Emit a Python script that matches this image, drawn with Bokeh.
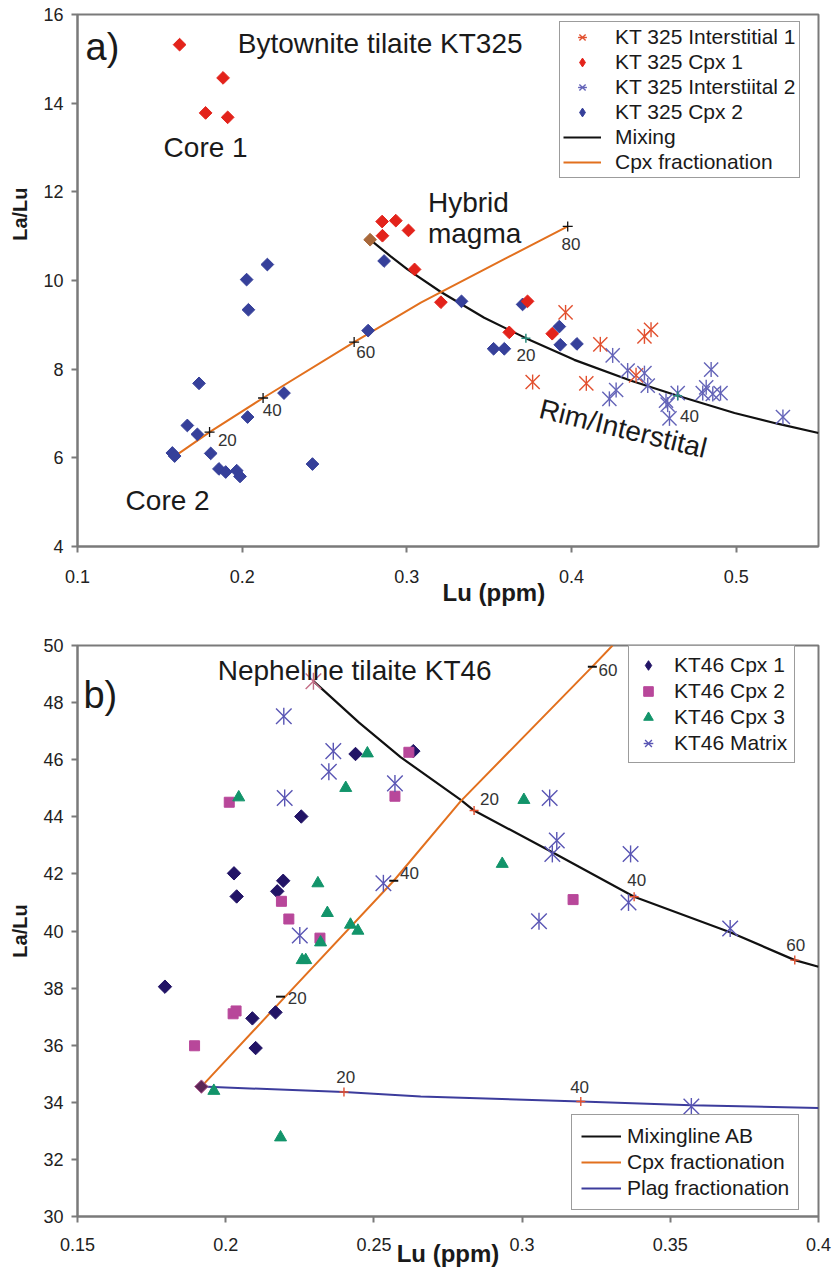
import math
from bokeh.plotting import figure
from bokeh.layouts import column
from bokeh.models import (Range1d, FixedTicker, Legend, LegendItem, Title,
                          CustomJSTickFormatter)
from bokeh.core.properties import value
from bokeh.embed import file_html
from bokeh.resources import INLINE

FONT = "Liberation Sans"

# ---------------- Panel a: Bytownite tilaite KT325 ----------------
a_int1_lu = [0.3964, 0.4175, 0.3764, 0.4090, 0.4483, 0.4443, 0.4392]
a_int1_lalu = [9.28, 8.56, 7.71, 7.68, 8.89, 8.74, 7.86]

a_cpx1_lu = [0.162, 0.1884, 0.1778, 0.1912, 0.285, 0.2933, 0.301, 0.2852,
             0.3047, 0.3207, 0.3733, 0.3622, 0.3883]
a_cpx1_lalu = [15.32, 14.57, 13.78, 13.68, 11.33, 11.35, 11.13, 11.01,
               10.25, 9.51, 9.53, 8.83, 8.80]

a_int2_lu = [0.425, 0.4341, 0.4443, 0.4463, 0.4271, 0.423, 0.4574, 0.4584,
             0.4595, 0.4645, 0.4848, 0.4818, 0.4797, 0.4858, 0.4905, 0.5284]
a_int2_lalu = [8.31, 7.97, 7.91, 7.63, 7.53, 7.33, 7.29, 7.20,
               6.89, 7.46, 7.99, 7.59, 7.46, 7.44, 7.46, 6.92]

a_cpx2_lu = [0.2862, 0.2027, 0.2153, 0.2038, 0.2765, 0.1738, 0.2254, 0.2033,
             0.1667, 0.1728, 0.1576, 0.159, 0.1809, 0.1859, 0.19, 0.1967,
             0.1987, 0.2427, 0.3332, 0.3703, 0.3527, 0.3592, 0.3926, 0.3932, 0.4033]
a_cpx2_lalu = [10.44, 10.02, 10.36, 9.34, 8.87, 7.68, 7.46, 6.92,
               6.73, 6.53, 6.11, 6.04, 6.10, 5.75, 5.68, 5.71,
               5.58, 5.86, 9.53, 9.46, 8.46, 8.46, 8.96, 8.55, 8.57]

a_hybrid_lu = [0.2777]
a_hybrid_lalu = [10.92]

a_mix_lu = [0.2777, 0.29, 0.3004, 0.3207, 0.347, 0.3723, 0.4017, 0.4362,
            0.4645, 0.499, 0.525, 0.55]
a_mix_lalu = [10.92, 10.55, 10.25, 9.74, 9.16, 8.70, 8.21, 7.74,
              7.40, 7.01, 6.77, 6.56]
a_mix_tick_lu = [0.3723, 0.4645]
a_mix_tick_lalu = [8.70, 7.40]
a_mix_tick_txt = ["20", "40"]
a_mix_lbl_lu = [0.3723, 0.4716]
a_mix_lbl_lalu = [8.33, 6.95]

a_cpx_lu = [0.1596, 0.1802, 0.2127, 0.268, 0.3085, 0.3207, 0.3612, 0.3977]
a_cpx_lalu = [6.05, 6.58, 7.35, 8.61, 9.50, 9.74, 10.52, 11.22]
a_cpx_tick_lu = [0.1802, 0.2127, 0.268, 0.3977]
a_cpx_tick_lalu = [6.58, 7.35, 8.61, 11.22]
a_cpx_tick_txt = ["20", "40", "60", "80"]
a_cpx_lbl_lu = [0.191, 0.2183, 0.275, 0.3997]
a_cpx_lbl_lalu = [6.41, 7.08, 8.38, 10.83]

a_xticks = [0.1, 0.2, 0.3, 0.4, 0.5]
a_yticks = [4, 6, 8, 10, 12, 14, 16]

# ---------------- Panel b: Nepheline tilaite KT46 ----------------
b_cpx1_lu = [0.2438, 0.2633, 0.2255, 0.2028, 0.2037, 0.2194, 0.2174,
             0.1795, 0.209, 0.2168, 0.2101]
b_cpx1_lalu = [46.20, 46.30, 44.01, 42.02, 41.21, 41.76, 41.39,
               38.05, 36.94, 37.15, 35.90]

b_cpx2_lu = [0.2012, 0.2618, 0.2571, 0.2188, 0.2213, 0.2318, 0.1895,
             0.2025, 0.2035, 0.3172]
b_cpx2_lalu = [44.51, 46.26, 44.72, 41.04, 40.42, 39.75, 35.98,
               37.10, 37.20, 41.10]

b_cpx3_lu = [0.2044, 0.2478, 0.2405, 0.2311, 0.2343, 0.2421, 0.2446,
             0.196, 0.2185, 0.2258, 0.227, 0.232, 0.3006, 0.2933]
b_cpx3_lalu = [44.68, 46.22, 45.01, 41.67, 40.63, 40.22, 40.01,
               34.40, 32.77, 38.98, 38.98, 39.60, 44.59, 42.35]

b_mat_lu = [0.2196, 0.2363, 0.2348, 0.2199, 0.2571, 0.2532, 0.2250,
            0.3093, 0.3117, 0.3102, 0.3366, 0.3359, 0.3057, 0.3702, 0.3571]
b_mat_lalu = [47.52, 46.30, 45.58, 44.66, 45.17, 41.67, 39.84,
              44.66, 43.17, 42.70, 42.70, 41.00, 40.34, 40.09, 33.85]

b_endA_lu = [0.2296]
b_endA_lalu = [48.75]
b_endB_lu = [0.1918]
b_endB_lalu = [34.55]

b_mix_lu = [0.2296, 0.245, 0.259, 0.2793, 0.2838, 0.3102, 0.3378, 0.3704, 0.392, 0.4]
b_mix_lalu = [48.75, 47.30, 46.09, 44.59, 44.22, 42.76, 41.20, 39.95, 38.98, 38.75]
b_mix_tick_lu = [0.2838, 0.3378, 0.392]
b_mix_tick_lalu = [44.22, 41.20, 38.98]
b_mix_tick_txt = ["20", "40", "60"]
b_mix_lbl_lu = [0.289, 0.3387, 0.3923]
b_mix_lbl_lalu = [44.62, 41.79, 39.52]

b_cpx_lu = [0.1918, 0.2201, 0.2567, 0.2793, 0.3237, 0.3305]
b_cpx_lalu = [34.55, 37.70, 41.76, 44.55, 49.26, 50.0]
b_cpx_tick_lu = [0.2185, 0.2567, 0.3237]
b_cpx_tick_lalu = [37.70, 41.76, 49.26]
b_cpx_tick_txt = ["20", "40", "60"]
b_cpx_lbl_lu = [0.2241, 0.262, 0.329]
b_cpx_lbl_lalu = [37.67, 42.02, 49.13]

b_plag_lu = [0.1918, 0.2399, 0.2658, 0.3198, 0.3571, 0.4]
b_plag_lalu = [34.55, 34.36, 34.20, 34.03, 33.90, 33.80]
b_plag_tick_lu = [0.2399, 0.3198]
b_plag_tick_lalu = [34.36, 34.03]
b_plag_tick_txt = ["20", "40"]
b_plag_lbl_lu = [0.2405, 0.3194]
b_plag_lbl_lalu = [34.87, 34.54]

b_xticks = [0.15, 0.2, 0.25, 0.3, 0.35, 0.4]
b_yticks = [30, 32, 34, 36, 38, 40, 42, 44, 46, 48, 50]

AXIS_GREY = "#7a7a7a"
TXT = "#1a1a1a"


def style_axes(p, xticks, yticks, x_standoff):
    p.grid.visible = False
    p.outline_line_color = AXIS_GREY
    p.outline_line_width = 2
    p.background_fill_color = "white"
    p.border_fill_color = "white"
    p.xaxis.ticker = FixedTicker(ticks=xticks)
    p.yaxis.ticker = FixedTicker(ticks=yticks)
    p.xaxis.formatter = CustomJSTickFormatter(code="return String(Math.round(tick*100)/100);")
    for ax in (p.xaxis[0], p.yaxis[0]):
        ax.axis_line_color = AXIS_GREY
        ax.axis_line_width = 2
        ax.major_tick_line_color = AXIS_GREY
        ax.major_tick_line_width = 2
        ax.major_tick_in = 0
        ax.major_tick_out = 6
        ax.minor_tick_line_color = None
        ax.major_label_text_font = FONT
        ax.major_label_text_font_size = "18px"
        ax.major_label_text_color = "#222222"
        ax.axis_label_text_font = FONT
        ax.axis_label_text_font_style = "bold"
        ax.axis_label_text_color = TXT
    p.xaxis.major_label_standoff = x_standoff
    p.yaxis.major_label_standoff = 8
    p.xaxis.axis_label_text_font_size = "24px"
    p.yaxis.axis_label_text_font_size = "20px"


def add_text(p, xs, ys, txt, size, align="left", baseline="alphabetic",
             angle=0.0, color=TXT, style="normal"):
    p.text(x=xs, y=ys, text=txt, text_font=value(FONT), text_font_size=size,
           text_align=align, text_baseline=baseline, angle=angle,
           text_color=color, text_font_style=style)


def asterisk(p, xs, ys, color, xsize, vsize, lw=1.4):
    r1 = p.scatter(xs, ys, marker="x", size=xsize, line_color=color, line_width=lw)
    r2 = p.scatter(xs, ys, marker="dash", size=vsize, angle=math.pi / 2,
                   line_color=color, line_width=lw)
    return [r1, r2]


def diamond(p, xs, ys, color, size, line=None):
    return p.scatter(xs, ys, marker="square", angle=math.pi / 4, size=size,
                     fill_color=color, line_color=line or color, line_width=1)


def legend_diamond(p, color, xout, yout):
    # off-range proxy so the legend shows an upright diamond
    return p.scatter([xout], [yout], marker="diamond", size=10,
                     fill_color=color, line_color=color)


def make_legend(items, loc, glyph_w, glyph_h, padding, standoff, spacing):
    leg = Legend(items=items, location=loc, glyph_width=glyph_w, glyph_height=glyph_h,
                 label_height=glyph_h, padding=padding, label_standoff=standoff,
                 spacing=spacing, margin=0, label_text_font=FONT,
                 label_text_font_size="21px", label_text_color=TXT,
                 border_line_color="#3a3a3a", border_line_width=1.5,
                 background_fill_color="white", background_fill_alpha=1.0)
    return leg


# ======================= Figure a =======================
p1 = figure(width=834, height=612, x_range=Range1d(0.1, 0.55), y_range=Range1d(4, 16),
            output_backend="svg", toolbar_location=None,
            min_border_left=77, min_border_right=16, min_border_top=14, min_border_bottom=66)
style_axes(p1, a_xticks, a_yticks, 17)

r_amix = p1.line(a_mix_lu, a_mix_lalu, line_color="#111111", line_width=2.2)
r_acpx = p1.line(a_cpx_lu, a_cpx_lalu, line_color="#e2701e", line_width=2)

diamond(p1, a_cpx2_lu, a_cpx2_lalu, "#36409a", 9)
diamond(p1, a_cpx1_lu, a_cpx1_lalu, "#e3231b", 9)
r_aint1 = asterisk(p1, a_int1_lu, a_int1_lalu, "#e2502f", 20, 15)
r_aint2 = asterisk(p1, a_int2_lu, a_int2_lalu, "#6464b8", 20, 15)
diamond(p1, a_hybrid_lu, a_hybrid_lalu, "#a8683a", 9)
r_acpx1 = legend_diamond(p1, "#e3231b", -1, -1)
r_acpx2 = legend_diamond(p1, "#36409a", -1, -1)

p1.scatter(a_cpx_tick_lu, a_cpx_tick_lalu, marker="cross", size=10,
           line_color="#111111", line_width=1.3)
p1.scatter(a_mix_tick_lu, a_mix_tick_lalu, marker="cross", size=9,
           line_color="#2a8a7a", line_width=1.5)
add_text(p1, a_cpx_lbl_lu, a_cpx_lbl_lalu, a_cpx_tick_txt, "17px", "center", "middle",
         color="#333333")
add_text(p1, a_mix_lbl_lu, a_mix_lbl_lalu, a_mix_tick_txt, "17px", "center", "middle",
         color="#333333")

add_text(p1, [0.1049], [15.26], ["a)"], "38px")
add_text(p1, [0.1973], [15.34], ["Bytownite tilaite KT325"], "28px")
add_text(p1, [0.1523], [13.01], ["Core 1"], "28px")
add_text(p1, [0.3128], [11.76], ["Hybrid"], "28px")
add_text(p1, [0.3128], [11.06], ["magma"], "28px")
add_text(p1, [0.1292], [5.04], ["Core 2"], "28px")
add_text(p1, [0.4313], [6.66], ["Rim/Interstital"], "28px", "center", "middle",
         angle=-0.239)

leg_a = make_legend([
    LegendItem(label="KT 325 Interstitial 1", renderers=r_aint1),
    LegendItem(label="KT 325 Cpx 1", renderers=[r_acpx1]),
    LegendItem(label="KT 325 Interstiital 2", renderers=r_aint2),
    LegendItem(label="KT 325 Cpx 2", renderers=[r_acpx2]),
    LegendItem(label="Mixing", renderers=[r_amix]),
    LegendItem(label="Cpx fractionation", renderers=[r_acpx]),
], (482, 368), 38, 22, 3, 14, 1)
p1.add_layout(leg_a)

p1.add_layout(Title(text="Lu (ppm)", align="left", offset=365, standoff=-14,
                    vertical_align="top", text_font=FONT, text_font_size="24px",
                    text_font_style="bold", text_color=TXT), "below")
p1.add_layout(Title(text="La/Lu", align="right", offset=173, standoff=16,
                    vertical_align="top", text_font=FONT, text_font_size="20px",
                    text_font_style="bold", text_color=TXT), "left")

# ======================= Figure b =======================
p2 = figure(width=834, height=667, x_range=Range1d(0.15, 0.4), y_range=Range1d(30, 50),
            output_backend="svg", toolbar_location=None,
            min_border_left=77, min_border_right=16, min_border_top=33, min_border_bottom=63)
style_axes(p2, b_xticks, b_yticks, 15)
p2.xaxis.axis_label = "Lu (ppm)"
p2.yaxis.axis_label = "La/Lu"
p2.xaxis.axis_label_standoff = -14
p2.yaxis.axis_label_standoff = 9

r_bmix = p2.line(b_mix_lu, b_mix_lalu, line_color="#111111", line_width=2.2)
r_bcpx = p2.line(b_cpx_lu, b_cpx_lalu, line_color="#e2701e", line_width=2)
r_bplag = p2.line(b_plag_lu, b_plag_lalu, line_color="#3c3c9c", line_width=2)

diamond(p2, b_cpx1_lu, b_cpx1_lalu, "#221466", 9.5)
r_bcpx2 = p2.scatter(b_cpx2_lu, b_cpx2_lalu, marker="square", size=10,
                     fill_color="#b8479a", line_color="#b8479a")
r_bcpx3 = p2.scatter(b_cpx3_lu, b_cpx3_lalu, marker="triangle", size=12,
                     fill_color="#12946a", line_color="#12946a")
r_bmat = asterisk(p2, b_mat_lu, b_mat_lalu, "#5a56b4", 22, 17)
asterisk(p2, b_endA_lu, b_endA_lalu, "#c46e86", 22, 17)
diamond(p2, b_endB_lu, b_endB_lalu, "#5c2556", 9.5, line="#b05a90")
r_bcpx1 = legend_diamond(p2, "#221466", 0, 0)

p2.scatter(b_cpx_tick_lu, b_cpx_tick_lalu, marker="dash", size=9,
           line_color="#111111", line_width=2)
p2.scatter(b_mix_tick_lu, b_mix_tick_lalu, marker="cross", size=9,
           line_color="#e2502f", line_width=1.4)
p2.scatter(b_plag_tick_lu, b_plag_tick_lalu, marker="cross", size=9,
           line_color="#e2502f", line_width=1.4)
add_text(p2, b_cpx_lbl_lu, b_cpx_lbl_lalu, b_cpx_tick_txt, "17px", "center", "middle",
         color="#333333")
add_text(p2, b_mix_lbl_lu, b_mix_lbl_lalu, b_mix_tick_txt, "17px", "center", "middle",
         color="#333333")
add_text(p2, b_plag_lbl_lu, b_plag_lbl_lalu, b_plag_tick_txt, "17px", "center", "middle",
         color="#333333")

add_text(p2, [0.152], [48.25], ["b)"], "38px")
add_text(p2, [0.1973], [49.12], ["Nepheline tilaite KT46"], "28px")

leg_b1 = make_legend([
    LegendItem(label="KT46 Cpx 1", renderers=[r_bcpx1]),
    LegendItem(label="KT46 Cpx 2", renderers=[r_bcpx2]),
    LegendItem(label="KT46 Cpx 3", renderers=[r_bcpx3]),
    LegendItem(label="KT46 Matrix", renderers=r_bmat),
], (551, 453), 24, 24, 7, 14, 2)
p2.add_layout(leg_b1)

leg_b2 = make_legend([
    LegendItem(label="Mixingline AB", renderers=[r_bmix]),
    LegendItem(label="Cpx fractionation", renderers=[r_bcpx]),
    LegendItem(label="Plag fractionation", renderers=[r_bplag]),
], (494, 6), 40, 22, 9, 6, 2)
p2.add_layout(leg_b2)

layout = column(p1, p2, spacing=0)
open("out.html", "w").write(file_html(layout, INLINE))
